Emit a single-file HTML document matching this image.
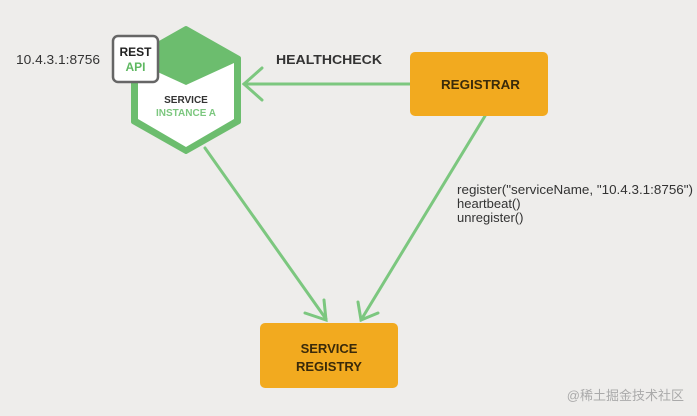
<!DOCTYPE html>
<html><head><style>
body{margin:0;background:#eeedeb;width:697px;height:416px;overflow:hidden;font-family:"Liberation Sans","Noto Sans CJK SC",sans-serif}
</style></head><body>
<svg width="697" height="416" viewBox="0 0 697 416" xmlns="http://www.w3.org/2000/svg" style="position:absolute;left:0;top:0">
<rect width="697" height="416" fill="#eeedeb"/>
<g stroke="#7cc77f" stroke-width="3" fill="none" stroke-linecap="round">
<line x1="410" y1="84" x2="244" y2="84"/>
<polyline points="262,68 244,84 262,100"/>
<line x1="205" y1="148" x2="326" y2="319"/>
<polyline points="305,313 326,320 324,300"/>
<line x1="485" y1="116" x2="361" y2="320"/>
<polyline points="358,302 361,320 378,313"/>
</g>
<polygon points="186,28 239,58 239,122 186,152 133,122 133,58" fill="#6cbd6e" stroke="#6cbd6e" stroke-width="4" stroke-linejoin="round"/>
<polygon points="186,85 234,63 234,119 186,147 138,119 138,63" fill="#ffffff"/>
<rect x="113" y="36" width="45" height="46" rx="5" fill="#fff" stroke="#666" stroke-width="2.5"/>
<text x="135.5" y="56" font-size="12" font-weight="bold" fill="#222" text-anchor="middle">REST</text>
<text x="135.5" y="71" font-size="12" font-weight="bold" fill="#5fb862" text-anchor="middle">API</text>
<text x="186" y="103" font-size="10" font-weight="bold" fill="#333" text-anchor="middle">SERVICE</text>
<text x="186" y="116" font-size="10" font-weight="bold" fill="#7cc77f" text-anchor="middle">INSTANCE A</text>
<text x="16" y="64" font-size="13" fill="#333" textLength="84" lengthAdjust="spacingAndGlyphs">10.4.3.1:8756</text>
<text x="276" y="64" font-size="13" font-weight="bold" fill="#333" textLength="106" lengthAdjust="spacingAndGlyphs">HEALTHCHECK</text>
<rect x="410" y="52" width="138" height="64" rx="5" fill="#f2aa1f"/>
<text x="441" y="89" font-size="13" font-weight="bold" fill="#3a2a0a" textLength="79" lengthAdjust="spacingAndGlyphs">REGISTRAR</text>
<text x="457" y="194" font-size="13" fill="#333" textLength="236" lengthAdjust="spacingAndGlyphs">register("serviceName, "10.4.3.1:8756")</text>
<text x="457" y="208" font-size="13" fill="#333">heartbeat()</text>
<text x="457" y="222" font-size="13" fill="#333">unregister()</text>
<rect x="260" y="323" width="138" height="65" rx="5" fill="#f2aa1f"/>
<text x="329" y="353" font-size="13" font-weight="bold" fill="#3a2a0a" text-anchor="middle">SERVICE</text>
<text x="329" y="371" font-size="13" font-weight="bold" fill="#3a2a0a" text-anchor="middle">REGISTRY</text>
<text x="684" y="400" font-size="13" fill="#aaa" text-anchor="end">@稀土掘金技术社区</text>
</svg>
</body></html>
